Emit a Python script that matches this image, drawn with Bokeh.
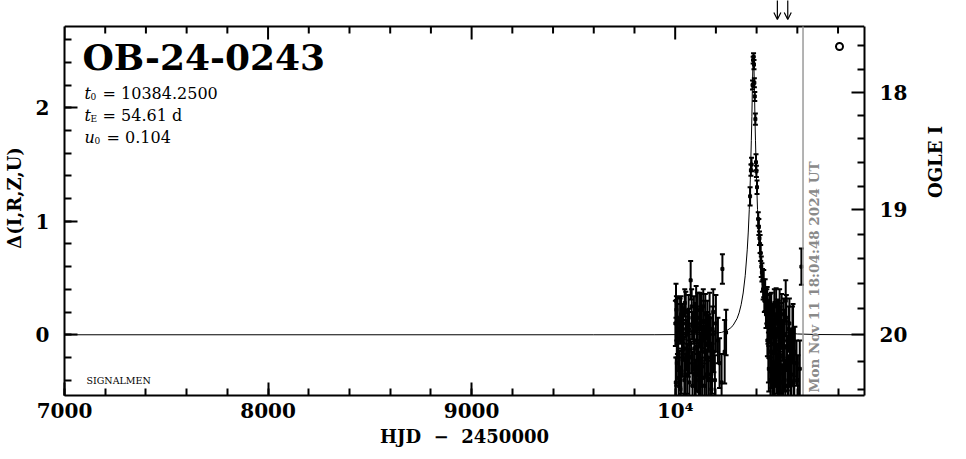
import numpy as np
from bokeh.plotting import figure
from bokeh.models import (LinearAxis, FixedTicker, SingleIntervalTicker, Range1d,
                          Arrow, OpenHead, CustomJSTickFormatter)
from bokeh.core.properties import value
from bokeh.embed import file_html
from bokeh.resources import INLINE

# ---------------- data ----------------
event_name = "OB-24-0243"
t0_txt = "10384.2500"
tE_txt = "54.61 d"
u0_txt = "0.104"
date_txt = "Mon Nov 11 18:04:48 2024 UT"
now_hjd = 10628
alert_hjd = [10502, 10553]

hjd = [10001, 10003, 10006, 10009, 10012, 10015, 10019, 10022, 10026, 10029,
       10033, 10036, 10040, 10043, 10047, 10050, 10054, 10057, 10061, 10064,
       10068, 10072, 10076, 10079, 10083, 10087, 10090, 10094, 10098, 10101,
       10105, 10109, 10113, 10116, 10120, 10124, 10128, 10132, 10136, 10140,
       10145, 10150, 10155, 10160, 10166, 10172, 10178, 10184, 10190, 10195,
       10200, 10210, 10218, 10228, 10232, 10243, 10250,
       10004, 10008, 10011, 10017, 10024, 10031, 10038, 10045, 10052, 10059,
       10066, 10070, 10081, 10085, 10092, 10096, 10103, 10107, 10111, 10118,
       10122, 10126, 10130, 10134, 10138, 10143, 10148, 10153, 10158, 10163,
       10169, 10175, 10181, 10187,
       10368, 10372, 10375, 10380, 10383, 10385, 10387, 10389, 10391, 10394,
       10397, 10399, 10402,
       10408, 10411, 10414, 10417, 10420, 10423, 10426, 10429, 10432, 10435,
       10438, 10442, 10446,
       10450, 10453, 10456, 10460, 10463, 10466, 10470, 10473, 10477, 10480,
       10484, 10487, 10491, 10494, 10498, 10502, 10505, 10509, 10513, 10517,
       10521, 10525, 10529, 10533, 10538, 10543, 10548, 10553, 10558, 10564,
       10570, 10576, 10582, 10588, 10596, 10603, 10612, 10620,
       10452, 10458, 10462, 10468, 10472, 10475, 10482, 10486, 10489, 10496,
       10500, 10507, 10511, 10515, 10519, 10523, 10531, 10536, 10541, 10546,
       10551, 10556, 10561, 10567, 10573, 10579, 10585]
delta = [0.10, -0.42, 0.22, -0.05, 0.15, -0.18, 0.05, -0.30, -0.48, 0.18,
         -0.02, -0.22, 0.10, -0.12, 0.28, -0.35, 0.00, -0.15, 0.12, -0.25,
         0.05, -0.08, 0.48, -0.20, 0.08, -0.30, 0.02, -0.12, 0.15, -0.40,
         -0.05, 0.10, -0.22, -0.50, 0.05, -0.10, 0.22, -0.28, -0.02, 0.12,
         -0.45, -0.08, 0.08, -0.20, 0.02, -0.35, -0.48, 0.05, -0.15, -0.40,
         0.10, -0.05, -0.25, -0.42, 0.58, -0.15, 0.02,
         0.30, -0.25, 0.05, -0.38, 0.12, -0.32, 0.05, -0.40, 0.20, -0.30,
         0.15, -0.42, 0.25, -0.45, 0.18, -0.35, 0.25, -0.30, 0.15, -0.35,
         0.22, -0.45, 0.05, -0.38, 0.25, -0.15, 0.18, -0.35, 0.10, -0.40,
         0.15, -0.10, -0.30, 0.20,
         1.22, 1.45, 1.50, 2.20, 2.42, 2.45, 2.38, 2.22, 2.10, 1.90,
         1.52, 1.44, 1.30,
         1.02, 0.95, 0.85, 0.80, 0.72, 0.60, 0.55, 0.48, 0.40, 0.45,
         0.30, 0.35, 0.18,
         0.25, -0.05, 0.10, -0.30, 0.05, 0.20, -0.15, 0.00, -0.45, 0.12,
         -0.08, 0.28, -0.25, 0.05, -0.12, 0.15, -0.40, -0.02, 0.22, -0.18,
         0.08, -0.50, -0.05, 0.10, -0.30, 0.30, -0.10, -0.45, 0.05, -0.20,
         -0.35, 0.00, -0.42, -0.15, -0.25, -0.40, -0.30, 0.60,
         0.30, -0.20, 0.15, -0.40, 0.22, -0.25, -0.35, 0.05, -0.45, 0.25,
         -0.30, 0.10, -0.35, 0.05, -0.42, 0.18, -0.30, 0.00, -0.45, 0.15,
         -0.25, -0.40, 0.10, -0.45, -0.20, 0.05, -0.40]
err = [0.20, 0.22, 0.12, 0.15, 0.18, 0.14, 0.10, 0.16, 0.20, 0.16,
       0.12, 0.15, 0.14, 0.10, 0.12, 0.18, 0.13, 0.16, 0.10, 0.12,
       0.18, 0.11, 0.17, 0.14, 0.12, 0.15, 0.10, 0.16, 0.13, 0.18,
       0.12, 0.15, 0.14, 0.22, 0.16, 0.12, 0.14, 0.16, 0.10, 0.18,
       0.20, 0.15, 0.12, 0.18, 0.16, 0.20, 0.25, 0.20, 0.18, 0.22,
       0.25, 0.20, 0.22, 0.25, 0.13, 0.28, 0.20,
       0.15, 0.20, 0.22, 0.18, 0.20, 0.20, 0.22, 0.20, 0.18, 0.22,
       0.20, 0.22, 0.15, 0.20, 0.16, 0.22, 0.18, 0.20, 0.22, 0.20,
       0.15, 0.22, 0.20, 0.18, 0.15, 0.22, 0.18, 0.22, 0.20, 0.20,
       0.22, 0.25, 0.22, 0.20,
       0.08, 0.05, 0.06, 0.04, 0.03, 0.03, 0.04, 0.04, 0.04, 0.05,
       0.07, 0.05, 0.06,
       0.06, 0.07, 0.06, 0.08, 0.07, 0.09, 0.08, 0.10, 0.09, 0.12,
       0.10, 0.14, 0.12,
       0.15, 0.14, 0.18, 0.20, 0.12, 0.16, 0.18, 0.14, 0.22, 0.15,
       0.16, 0.12, 0.20, 0.14, 0.18, 0.16, 0.22, 0.15, 0.18, 0.16,
       0.20, 0.24, 0.18, 0.22, 0.20, 0.18, 0.22, 0.25, 0.20, 0.24,
       0.22, 0.25, 0.25, 0.22, 0.20, 0.22, 0.25, 0.16,
       0.12, 0.22, 0.20, 0.20, 0.15, 0.22, 0.20, 0.22, 0.20, 0.16,
       0.22, 0.20, 0.22, 0.20, 0.22, 0.18, 0.24, 0.22, 0.22, 0.20,
       0.24, 0.22, 0.22, 0.20, 0.25, 0.22, 0.25]

# model light curve as drawn
model_hjd = [7000, 9600, 9900, 10100, 10168, 10228, 10254, 10270, 10284, 10304,
             10314, 10324, 10334, 10344, 10354, 10359, 10364, 10369, 10374, 10376.75,
             10379, 10381.75, 10384.25, 10386.75, 10389.5, 10391.75, 10394.5, 10399.5, 10404.5, 10409.5,
             10414.5, 10424.5, 10434.5, 10444.5, 10454.5, 10464.5, 10484.5, 10498.5, 10514.5, 10540,
             10600, 10700, 10930]
model_delta = [0.0, 0.0, 0.0004, 0.0026, 0.007, 0.021, 0.038, 0.057, 0.081, 0.143,
               0.193, 0.265, 0.368, 0.520, 0.748, 0.905, 1.105, 1.365, 1.709, 1.921,
               2.154, 2.366, 2.462, 2.366, 2.154, 1.921, 1.709, 1.365, 1.105, 0.905,
               0.748, 0.520, 0.368, 0.265, 0.193, 0.143, 0.081, 0.057, 0.038, 0.021,
               0.007, 0.002, 0.0]

# right axis (OGLE I magnitude) tick labels
mag_major = [18, 19, 20]
mag_minor = [17.6, 17.8, 18.2, 18.4, 18.6, 18.8, 19.2, 19.4, 19.6, 19.8, 20.2, 20.4]
I_BASE = 20.0
F_SRC = 0.862

# ---------------- layout helpers ----------------
X0, X1 = 7000, 10930
YTOP = 2.716              # value at the top edge of the box
PX_PER_UNIT = 113.5
IMG_L, IMG_R, IMG_T = 63, 863, 26
FRAME_H = 395             # plotting area reaches the top of the canvas (room for arrows)


def px2x(px):
    return X0 + (px - IMG_L) * (X1 - X0) / (IMG_R - IMG_L)


def px2y(py):
    return YTOP - (py - IMG_T) / PX_PER_UNIT


Y_EXT = px2y(0)
Y0 = px2y(FRAME_H)


def mag_to_delta(m):
    return float(2.5 * np.log10(1 + (10 ** (0.4 * (I_BASE - m)) - 1) / F_SRC))


SERIF = "DejaVu Serif"
NBSP = "\u00a0"

p = figure(frame_width=800, frame_height=FRAME_H,
           x_range=Range1d(X0, X1), y_range=Range1d(Y0, Y_EXT),
           output_backend="svg", toolbar_location=None,
           x_axis_type=None, y_axis_type=None,
           min_border_left=63, min_border_right=87, min_border_top=0, min_border_bottom=48,
           background_fill_color="white", border_fill_color="white")
p.outline_line_color = None
p.xgrid.visible = False
p.ygrid.visible = False


def style_axis(ax, label_size="20px"):
    ax.axis_line_width = 2
    ax.axis_line_color = "black"
    ax.major_tick_in = 13
    ax.major_tick_out = 0
    ax.minor_tick_in = 7
    ax.minor_tick_out = 0
    ax.major_tick_line_width = 2
    ax.minor_tick_line_width = 2
    ax.major_tick_line_color = "black"
    ax.minor_tick_line_color = "black"
    ax.major_label_text_font = SERIF
    ax.major_label_text_font_style = "bold"
    ax.major_label_text_font_size = label_size
    ax.major_label_text_color = "black"
    ax.axis_label_text_font = SERIF
    ax.axis_label_text_font_style = "bold"
    ax.axis_label_text_font_size = "18px"
    ax.axis_label_text_color = "black"


xb = LinearAxis(ticker=SingleIntervalTicker(interval=1000, num_minor_ticks=5),
                axis_label="HJD" + NBSP + NBSP + "\u2212" + NBSP + NBSP + "2450000")
style_axis(xb)
xb.major_label_overrides = {10000: "10\u2074"}
xb.major_label_standoff = 3
xb.axis_label_standoff = 0
p.add_layout(xb, "below")

yl = LinearAxis(ticker=SingleIntervalTicker(interval=1, num_minor_ticks=5),
                axis_label="\u0394(I,R,Z,U)", bounds=(Y0, YTOP))
style_axis(yl)
yl.major_label_standoff = 15
yl.axis_label_standoff = 8
p.add_layout(yl, "left")

maj_pos = [round(mag_to_delta(m), 6) for m in mag_major]
min_pos = [round(mag_to_delta(m), 6) for m in mag_minor]
yr = LinearAxis(ticker=FixedTicker(ticks=maj_pos, minor_ticks=min_pos),
                formatter=CustomJSTickFormatter(
                    args=dict(t=maj_pos, l=[str(m) for m in mag_major]),
                    code="for (let i = 0; i < t.length; i++) { if (Math.abs(tick - t[i]) < 1e-4) return l[i]; } return '';"),
                axis_label="OGLE I", bounds=(Y0, YTOP))
style_axis(yr)
yr.major_label_standoff = 15
yr.axis_label_standoff = 25
try:
    yr.axis_label_orientation = float(np.pi / 2)
except Exception:
    pass
p.add_layout(yr, "right")

# top edge of the box with inward ticks (same 1000/200 spacing as the bottom axis)
top_major = np.arange(X0, X1, 1000)
top_minor = np.array([t for t in np.arange(X0, X1, 200) if t % 1000 != 0])
p.segment(x0=[X0], y0=[YTOP], x1=[X1], y1=[YTOP], line_color="black", line_width=2)
p.segment(x0=top_major, y0=YTOP, x1=top_major, y1=YTOP - 13 / PX_PER_UNIT,
          line_color="black", line_width=2)
p.segment(x0=top_minor, y0=YTOP, x1=top_minor, y1=YTOP - 7 / PX_PER_UNIT,
          line_color="black", line_width=2)

# model curve
p.line(model_hjd, model_delta, line_color="black", line_width=1)

# error bars and points
d = np.array(delta)
e = np.array(err)
p.segment(x0=hjd, y0=d - e, x1=hjd, y1=d + e, line_color="black", line_width=2)
p.scatter(x=hjd, y=d + e, marker="dash", size=5, line_color="black", line_width=2)
p.scatter(x=hjd, y=d - e, marker="dash", size=5, line_color="black", line_width=2)
p.scatter(x=hjd, y=delta, marker="square", size=3, color="black")

# current date line and text
p.segment(x0=[now_hjd], y0=[Y0], x1=[now_hjd], y1=[YTOP], line_color="#9a9a9a", line_width=1.5)
p.text(x=[px2x(812)], y=[px2y(392)], text=[date_txt], angle=np.pi / 2,
       text_font=value(SERIF), text_font_style="bold", text_font_size="13.5px",
       text_color="#8a8a8a", text_align="left", text_baseline="middle")

# alert arrows above the box
for xa in alert_hjd:
    p.add_layout(Arrow(end=OpenHead(size=7, line_width=1.2, line_color="black"),
                       x_start=xa, y_start=px2y(-2), x_end=xa, y_end=px2y(19),
                       line_width=1.2, line_color="black"))

# OGLE symbol
p.scatter(x=[px2x(838)], y=[px2y(46)], marker="circle", size=7, fill_color=None,
          line_color="black", line_width=2)

# title and parameters
p.text(x=[px2x(81)], y=[px2y(56)], text=[event_name], text_font=value(SERIF),
       text_font_style="bold", text_font_size="36px", text_baseline="middle",
       text_align="left", text_color="black")


def param(py, sym, sub, rest, sym_w):
    base = py + 5
    p.text(x=[px2x(83)], y=[px2y(base)], text=[sym], text_font=value(SERIF),
           text_font_style="italic", text_font_size="16px", text_baseline="alphabetic",
           text_color="black")
    p.text(x=[px2x(83 + sym_w)], y=[px2y(base + 3)], text=[sub], text_font=value(SERIF),
           text_font_size="9px", text_baseline="alphabetic", text_color="black")
    p.text(x=[px2x(83 + sym_w + 7)], y=[px2y(base)], text=[NBSP + "= " + rest], text_font=value(SERIF),
           text_font_size="16px", text_baseline="alphabetic", text_color="black")


param(88, "t", "0", t0_txt, 6)
param(110, "t", "E", tE_txt, 6)
param(132, "u", "0", u0_txt, 10)

p.text(x=[px2x(85)], y=[px2y(380)], text=["SIGNALMEN"], text_font=value(SERIF),
       text_font_size="9.5px", text_baseline="middle", text_color="black")

open("out.html", "w").write(file_html(p, INLINE))
